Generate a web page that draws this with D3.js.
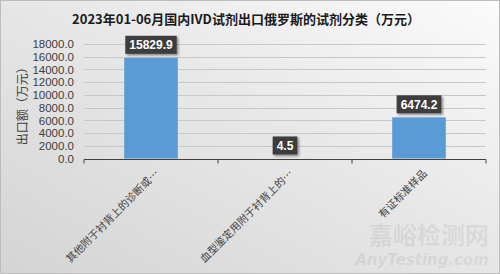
<!DOCTYPE html>
<html>
<head>
<meta charset="utf-8">
<script src="https://cdn.jsdelivr.net/npm/d3@7"></script>
<style>
  body { margin: 0; background: #fff; }
  svg { display: block; font-family: "Noto Sans CJK SC", "Liberation Sans", sans-serif; }
</style>
</head>
<body>
<div id="chart"></div>
<script>
const title = '2023年01-06月国内IVD试剂出口俄罗斯的试剂分类（万元）';
const categories = ['其他附于衬背上的诊断或…', '血型鉴定用附于衬背上的…', '有证标准样品'];
const values = [15829.9, 4.5, 6474.2];
const yTicks = [0, 2000, 4000, 6000, 8000, 10000, 12000, 14000, 16000, 18000];
const yTitle = '出口额（万元）';

const width = 500, height = 274;
const margin = { top: 44, right: 14, bottom: 115.5, left: 84 };

const svg = d3.select('#chart').append('svg')
  .attr('width', width)
  .attr('height', height);

const defs = svg.append('defs');
const bg = defs.append('linearGradient')
  .attr('id', 'bg')
  .attr('x1', '0%').attr('y1', '100%')
  .attr('x2', '100%').attr('y2', '0%');
bg.append('stop').attr('offset', '0%').attr('stop-color', '#d4d4d4');
bg.append('stop').attr('offset', '55%').attr('stop-color', '#e8e8e8');
bg.append('stop').attr('offset', '100%').attr('stop-color', '#fbfbfb');

const shadow = defs.append('filter').attr('id', 'shadow')
  .attr('x', '-20%').attr('y', '-20%').attr('width', '150%').attr('height', '160%');
shadow.append('feDropShadow')
  .attr('dx', 1.5).attr('dy', 1.5).attr('stdDeviation', 1)
  .attr('flood-color', '#000').attr('flood-opacity', 0.45);

svg.append('rect')
  .attr('x', 0.5).attr('y', 0.5)
  .attr('width', width - 1).attr('height', height - 1)
  .attr('fill', 'url(#bg)')
  .attr('stroke', '#bdbdbd');

const x = d3.scaleBand()
  .domain(categories)
  .range([margin.left, width - margin.right])
  .paddingInner(0.6)
  .paddingOuter(0.3);

const y = d3.scaleLinear()
  .domain([0, 18000])
  .range([height - margin.bottom, margin.top]);

// title
svg.append('text')
  .attr('x', 246).attr('y', 24)
  .attr('text-anchor', 'middle')
  .style('font-size', '13px')
  .style('font-weight', 'bold')
  .attr('fill', '#1a1a1a')
  .text(title);

// grid lines
svg.append('g')
  .selectAll('line')
  .data(yTicks.slice(1))
  .enter()
  .append('line')
  .attr('x1', margin.left)
  .attr('x2', width - margin.right)
  .attr('y1', d => Math.round(y(d)) + 0.5)
  .attr('y2', d => Math.round(y(d)) + 0.5)
  .attr('stroke', '#c8c8c8')
  .attr('stroke-width', 1);

// y axis labels
const yAxis = svg.append('g')
  .attr('transform', `translate(${margin.left - 10}, 0)`)
  .call(d3.axisLeft(y).tickValues(yTicks).tickFormat(d3.format('.1f')).tickSize(0).tickPadding(0));
yAxis.select('.domain').remove();
yAxis.selectAll('text')
  .style('font-family', '"Liberation Sans", "DejaVu Sans", sans-serif')
  .style('font-size', '11.5px')
  .attr('fill', '#404040');

svg.append('text')
  .attr('transform', `translate(27, ${(margin.top + height - margin.bottom) / 2 + 2}) rotate(-90)`)
  .attr('text-anchor', 'middle')
  .style('font-size', '12px')
  .attr('fill', '#404040')
  .text(yTitle);

// bars
svg.append('g')
  .selectAll('rect')
  .data(values)
  .enter()
  .append('rect')
  .attr('x', (d, i) => x(categories[i]))
  .attr('y', d => y(d))
  .attr('width', x.bandwidth())
  .attr('height', d => y(0) - y(d))
  .attr('fill', '#5b9bd5');

// x axis
const baseY = Math.round(y(0)) + 0.5;
const bandEdges = d3.range(categories.length + 1).map(i => margin.left + i * (width - margin.right - margin.left) / categories.length);
svg.append('line')
  .attr('x1', margin.left).attr('x2', width - margin.right)
  .attr('y1', baseY).attr('y2', baseY)
  .attr('stroke', '#404040');
svg.append('g')
  .selectAll('line')
  .data(bandEdges)
  .enter()
  .append('line')
  .attr('x1', d => d).attr('x2', d => d)
  .attr('y1', baseY).attr('y2', baseY + 4)
  .attr('stroke', '#404040');

svg.append('g')
  .selectAll('text')
  .data(categories)
  .enter()
  .append('text')
  .attr('transform', d => `translate(${x(d) + x.bandwidth() / 2 + 6}, ${baseY + 12}) rotate(-45)`)
  .attr('text-anchor', 'end')
  .attr('dy', '0.35em')
  .style('font-size', '10.5px')
  .attr('fill', '#404040')
  .text(d => d);

// data labels
const labels = svg.append('g')
  .selectAll('g')
  .data(values)
  .enter()
  .append('g')
  .attr('transform', (d, i) => `translate(${x(categories[i]) + x.bandwidth() / 2}, ${y(d) - 13})`);

labels.each(function (d) {
  const g = d3.select(this);
  const txt = d3.format('.1f')(d);
  const t = g.append('text')
    .attr('text-anchor', 'middle')
    .attr('dy', '0.36em')
    .style('font-family', '"Liberation Sans", "DejaVu Sans", sans-serif')
    .style('font-size', '12px')
    .style('font-weight', 'bold')
    .attr('fill', '#ffffff')
    .text(txt);
  const w = t.node().getComputedTextLength() + 8;
  g.insert('rect', 'text')
    .attr('x', -w / 2).attr('y', -9)
    .attr('width', w).attr('height', 18)
    .attr('fill', '#3c3c3c')
    .attr('filter', 'url(#shadow)');
});

// watermark
svg.append('text')
  .attr('x', 489).attr('y', 244)
  .attr('text-anchor', 'end')
  .style('font-size', '24px')
  .style('font-weight', 'bold')
  .attr('fill', '#000')
  .attr('opacity', 0.06)
  .text('嘉峪检测网');
svg.append('text')
  .attr('x', 489).attr('y', 265)
  .attr('text-anchor', 'end')
  .style('font-family', '"DejaVu Sans", sans-serif')
  .style('font-size', '15px')
  .style('font-style', 'italic')
  .style('font-weight', 'bold')
  .attr('fill', '#000')
  .attr('opacity', 0.06)
  .text('AnyTesting.com');
</script>
</body>
</html>
